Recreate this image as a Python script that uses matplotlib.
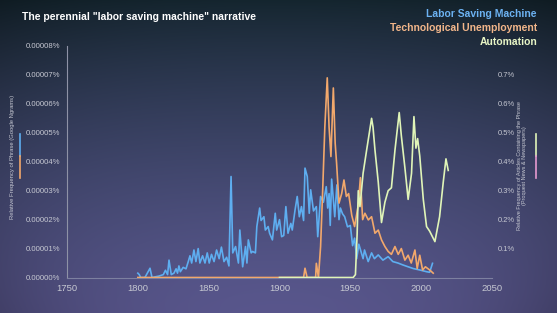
import numpy as np
import matplotlib.pyplot as plt
from matplotlib.lines import Line2D
from matplotlib.ticker import FuncFormatter

plt.rcParams['font.family'] = ['Liberation Sans', 'DejaVu Sans']

# Labor Saving Machine (Google Ngrams), values in 0.00001 %
blue_years = [1800, 1801, 1802, 1805, 1808.6, 1810, 1815, 1818, 1819.5, 1821, 1822, 1823.6,
              1825.5, 1827, 1828, 1829, 1830, 1832, 1834, 1835.6, 1836.8, 1838, 1839.6, 1841,
              1842.6, 1843.8, 1845.7, 1847.4, 1849, 1850.4, 1852, 1853.8, 1855.6, 1857.4, 1859,
              1860.8, 1862.7, 1864.3, 1865.8, 1867, 1869, 1871, 1872, 1874, 1876, 1877, 1878,
              1880, 1881, 1883, 1884, 1886, 1887, 1889, 1890, 1892, 1893, 1895, 1897, 1898,
              1900, 1901.5, 1903, 1904.5, 1906, 1908, 1909, 1911, 1912.5, 1914, 1915.5, 1917,
              1918, 1919.6, 1921, 1922, 1924, 1926, 1927, 1929, 1931, 1933, 1934, 1935, 1935.8,
              1936.8, 1938, 1939, 1940.5, 1942, 1943, 1944.5, 1946, 1948, 1950, 1951.6, 1953,
              1954.5, 1956, 1957.5, 1959, 1960, 1962.6, 1965, 1967, 1969.7, 1973, 1976.7, 1980,
              1983.6, 1987.3, 1990.8, 1994.4, 1999, 2003.8, 2006, 2008]
blue_vals = [0.15, 0.1, 0.0, 0.0, 0.32, 0.0, 0.05, 0.1, 0.25, 0.1, 0.6, 0.1,
             0.15, 0.3, 0.15, 0.4, 0.2, 0.35, 0.3, 0.55, 0.75, 0.5, 0.95, 0.55,
             1.0, 0.5, 0.75, 0.5, 0.85, 0.5, 0.8, 0.55, 0.95, 0.65, 1.05,
             0.55, 0.7, 0.4, 3.49, 0.85, 1.07, 0.5, 1.64, 0.37, 1.07, 0.5, 1.3,
             0.85, 0.9, 0.85, 1.76, 2.4, 1.97, 2.1, 1.64, 1.76, 1.53, 1.3, 2.22, 1.64,
             2.0, 1.41, 1.45, 2.45, 1.53, 1.87, 1.64, 2.34, 2.8, 2.1, 2.45, 1.97,
             3.78, 3.49, 2.22, 3.03, 2.3, 2.45, 1.41, 2.8, 2.6, 3.14, 2.4, 2.9, 1.8,
             3.4, 2.7, 2.1, 3.2, 2.0, 2.4, 2.2, 2.1, 1.75, 1.8, 1.1, 1.36,
             0.65, 1.15, 0.9, 0.65, 0.95, 0.55, 0.85, 0.65, 0.78, 0.6, 0.72, 0.55,
             0.5, 0.43, 0.37, 0.31, 0.26, 0.2, 0.18, 0.49]

# Technological Unemployment (Google Ngrams), values in 0.00001 %
orange_years = [1800, 1917, 1918, 1919.5, 1925.5, 1926, 1927.5, 1929, 1930.4, 1932, 1933.7,
                1935, 1936.3, 1938, 1939.3, 1940.3, 1942, 1943.9, 1945.5, 1947.2, 1948.8, 1951,
                1953, 1955.6, 1957.1, 1958.7, 1960.3, 1962.7, 1965, 1967.4, 1969.7, 1972,
                1974.4, 1976.7, 1979, 1981.5, 1983.8, 1986, 1988.5, 1990.8, 1993, 1995.6,
                1997.2, 1999, 2001, 2003, 2006, 2008.5]
orange_vals = [0.0, 0.0, 0.32, 0.0, 0.0, 0.49, 0.0, 1.07, 2.9, 5.2, 6.9,
               5.2, 4.18, 6.55, 4.64, 3.95, 2.57, 2.9, 3.37, 2.8, 2.9, 2.15,
               1.76, 2.5, 3.45, 2.0, 2.22, 1.99, 2.1, 1.53, 1.64, 1.3,
               1.07, 0.9, 0.8, 1.07, 0.8, 1.0, 0.6, 0.77, 0.5, 0.95,
               0.31, 0.77, 0.26, 0.37, 0.26, 0.15]

# Automation (Proquest News & Newspapers), values in %
green_years = [1900, 1952, 1953.6, 1954.8, 1955.6, 1956.8, 1959, 1961.5, 1965, 1966, 1967.4,
               1969.7, 1972, 1974.4, 1976.7, 1979, 1981.5, 1984.5, 1986, 1988.5, 1990.8,
               1993.2, 1994.9, 1996.3, 1997.5, 1999, 2001.5, 2003.8, 2006, 2009.7, 2013,
               2015.6, 2017.5, 2019.1]
green_vals = [0.0, 0.0, 0.01, 0.15, 0.30, 0.245, 0.36, 0.44, 0.55, 0.52, 0.44,
              0.33, 0.19, 0.26, 0.30, 0.31, 0.44, 0.57, 0.49, 0.38, 0.27,
              0.36, 0.556, 0.447, 0.48, 0.42, 0.27, 0.176, 0.16, 0.124, 0.21,
              0.33, 0.41, 0.37]

x_ticks = [1750, 1800, 1850, 1900, 1950, 2000, 2050]
left_ticks = [0, 1, 2, 3, 4, 5, 6, 7, 8]
right_ticks = [0.1, 0.2, 0.3, 0.4, 0.5, 0.6, 0.7]

c_blue = '#5eaef0'
c_orange = '#f2a86c'
c_green = '#e0f5b8'
c_tick = '#c6c8d2'

W, H = 557, 313
fig = plt.figure(figsize=(W / 100, H / 100), dpi=100)

# background: teal at top fading to purple, darker corners
bg = fig.add_axes([0, 0, 1, 1], zorder=-10)
yy, xx = np.mgrid[0:1:200j, 0:1:300j]
top = np.array([22, 40, 50]) / 255
bot = np.array([95, 92, 150]) / 255
t = yy[..., None] ** 0.85
img = top * (1 - t) + bot * t
vig = 1 - 0.35 * (((xx - 0.5) * 1.5) ** 2 + ((yy - 0.5) * 1.2) ** 2)[..., None] ** 1.6
img = np.clip(img * vig, 0, 1)
bg.imshow(img, aspect='auto', extent=[0, 1, 0, 1], origin='upper')
bg.axis('off')

ax = fig.add_axes([67 / W, 1 - 277.5 / H, 425 / W, 231.5 / H])
ax.patch.set_alpha(0)
ax.plot(blue_years, blue_vals, color=c_blue, lw=1.2, zorder=3)
ax.plot(orange_years, orange_vals, color=c_orange, lw=1.2, zorder=4)
ax.set_xlim(1750, 2050)
ax.set_ylim(0, 8)
ax.set_xticks(x_ticks)
ax.set_yticks(left_ticks)
ax.yaxis.set_major_formatter(FuncFormatter(lambda v, p: f"{v * 1e-5:.5f}%"))
ax.tick_params(axis='both', length=0, colors=c_tick)
ax.tick_params(axis='y', labelsize=5.6, pad=5)
ax.tick_params(axis='x', labelsize=6.8, pad=5)
for s in ['top', 'right']:
    ax.spines[s].set_visible(False)
ax.spines['left'].set_color('#8e92a6')
ax.spines['left'].set_linewidth(0.8)
ax.spines['bottom'].set_color('#7d80a0')
ax.spines['bottom'].set_linewidth(0.8)

ax2 = ax.twinx()
ax2.plot(green_years, green_vals, color=c_green, lw=1.2, zorder=5)
ax2.set_ylim(0, 0.8)
ax2.set_yticks(right_ticks)
ax2.yaxis.set_major_formatter(FuncFormatter(lambda v, p: f"{v:.1f}%"))
ax2.tick_params(axis='y', length=0, colors=c_tick, labelsize=5.4, pad=4)
for s in ['top', 'right', 'left', 'bottom']:
    ax2.spines[s].set_visible(False)

# title and legend text
fig.text(22 / W, 1 - 17 / H, 'The perennial "labor saving machine" narrative',
         color='white', fontsize=7.5, fontweight='bold', va='center', ha='left')
fig.text(537 / W, 1 - 14 / H, 'Labor Saving Machine', color='#6cb2f2',
         fontsize=7.5, fontweight='bold', ha='right', va='center')
fig.text(537 / W, 1 - 28 / H, 'Technological Unemployment', color='#f2b68a',
         fontsize=7.5, fontweight='bold', ha='right', va='center')
fig.text(537 / W, 1 - 42 / H, 'Automation', color='#e8f6c6',
         fontsize=7.5, fontweight='bold', ha='right', va='center')

# axis titles with colour keys
fig.text(13 / W, 1 - 157 / H, 'Relative Frequency of Phrase (Google Ngrams)',
         color=c_tick, fontsize=4.2, rotation=90, ha='center', va='center')
fig.add_artist(Line2D([20 / W, 20 / W], [1 - 134 / H, 1 - 156 / H], color=c_blue, lw=1.2))
fig.add_artist(Line2D([20 / W, 20 / W], [1 - 156 / H, 1 - 178 / H], color=c_orange, lw=1.2))

fig.text(522 / W, 1 - 166 / H, 'Relative Frequency of Articles Containing the Phrase\n(Proquest News & Newspapers)',
         color=c_tick, fontsize=4.0, rotation=90, ha='center', va='center', linespacing=1.1)
fig.add_artist(Line2D([536 / W, 536 / W], [1 - 134 / H, 1 - 156 / H], color=c_green, lw=1.2))
fig.add_artist(Line2D([536 / W, 536 / W], [1 - 156 / H, 1 - 178 / H], color='#e69ad0', lw=1.2))

fig.savefig('out.png', dpi=100)
